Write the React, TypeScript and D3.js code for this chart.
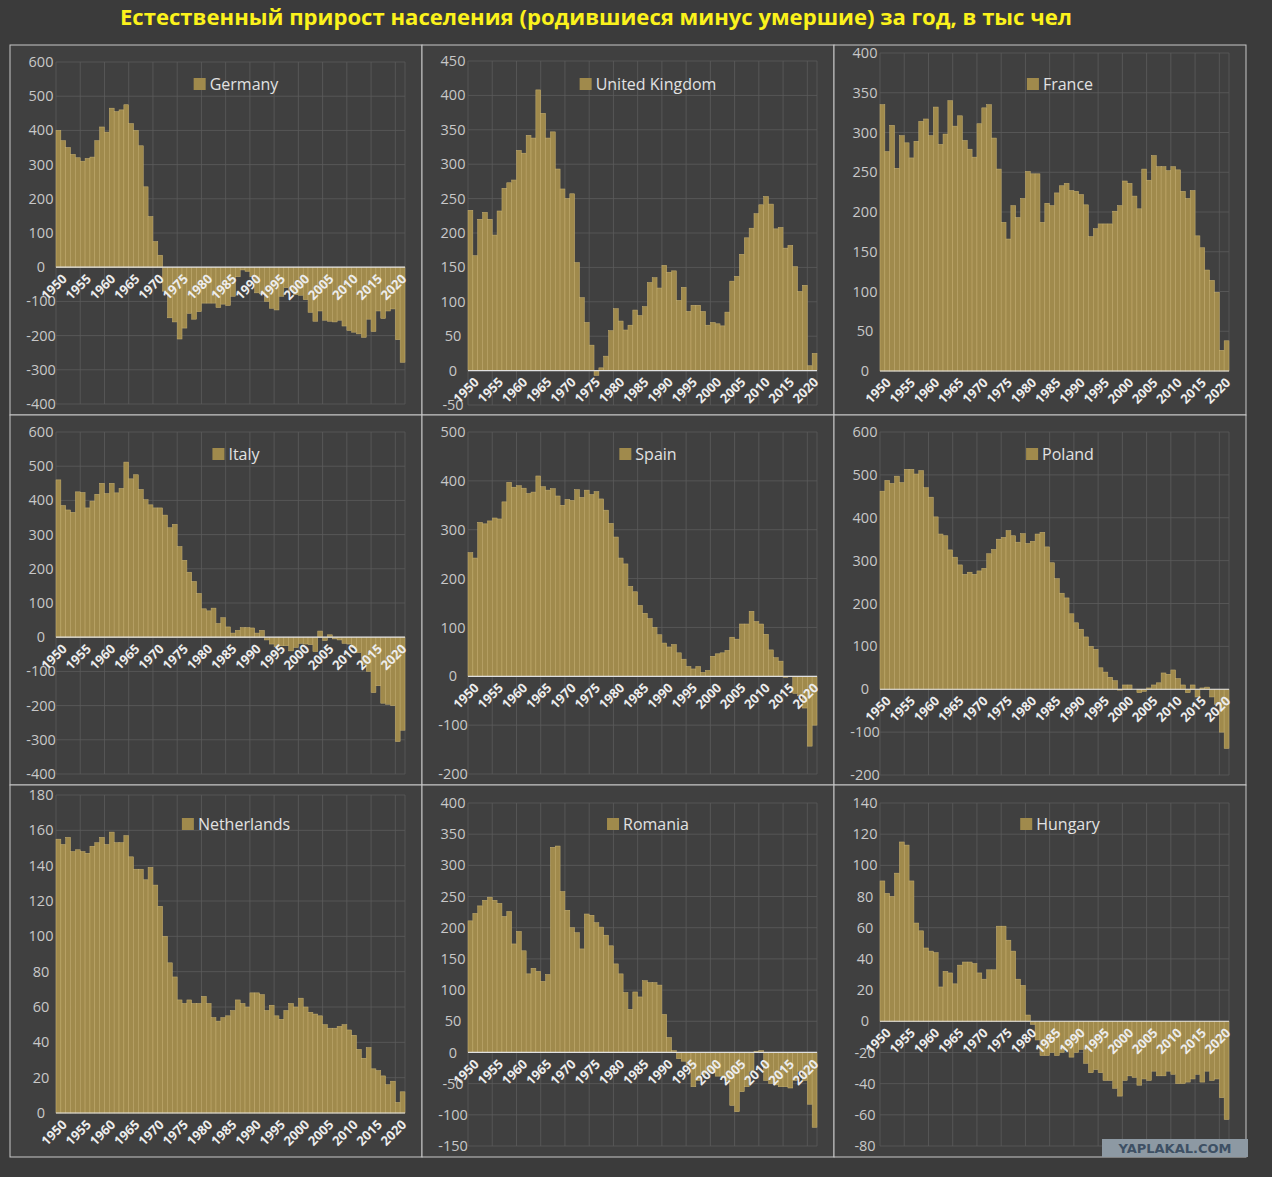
import { useEffect, useRef } from "react";
import * as d3 from "d3";

const TITLE = "Естественный прирост населения (родившиеся минус умершие) за год, в тыс чел";

const years = d3.range(1950, 2022);

const germany = [
  400, 370, 350, 330, 320, 310, 318, 322, 370, 410,
  395, 465, 455, 460, 475, 420, 400, 355, 235, 148,
  75, 35, -70, -148, -160, -210, -178, -135, -152, -130,
  -105, -105, -105, -118, -108, -112, -85, -28, -8, -12,
  -28, -75, -78, -100, -120, -125, -85, -60, -68, -80,
  -82, -95, -132, -158, -128, -155, -158, -160, -155, -172,
  -185, -190, -195, -205, -152, -188, -128, -150, -128, -122,
  -212, -278,
];
const uk = [
  233, 167, 220, 230, 220, 197, 232, 265, 273, 277,
  320, 316, 342, 338, 408, 374, 338, 347, 293, 264,
  250, 257, 157, 106, 70, 37, -7, 4, 21, 58,
  90, 72, 59, 66, 88, 80, 93, 128, 135, 120,
  153, 143, 145, 102, 121, 86, 95, 95, 86, 66,
  70, 68, 65, 85, 130, 137, 169, 193, 207, 228,
  241, 253, 242, 206, 208, 178, 182, 151, 115, 124,
  7, 25,
];
const france = [
  335, 276, 309, 255, 296, 287, 268, 289, 314, 317,
  296, 332, 285, 298, 340, 308, 321, 290, 279, 269,
  311, 331, 335, 293, 254, 187, 166, 208, 193, 217,
  251, 248, 248, 187, 211, 208, 224, 233, 236, 227,
  226, 222, 209, 169, 179, 185, 185, 185, 201, 208,
  239, 236, 220, 204, 254, 240, 271, 257, 257, 252,
  257, 253, 226, 217, 227, 170, 155, 127, 114, 99,
  26, 38,
];
const italy = [
  460, 385, 372, 365, 425, 423, 378, 398, 418, 450,
  420, 450, 422, 435, 512, 463, 475, 432, 402, 387,
  378, 378, 357, 320, 330, 265, 225, 190, 163, 128,
  83, 77, 85, 40, 57, 30, 12, 20, 28, 28,
  27, 12, 20, -8, -20, -28, -25, -25, -40, -30,
  -18, -20, -22, -42, 18, -10, 7, -5, -8, -18,
  -20, -30, -45, -80, -100, -162, -142, -193, -196, -200,
  -305, -272,
];
const spain = [
  253, 242, 315, 312, 318, 324, 322, 357, 397, 387,
  390, 385, 374, 377, 410, 388, 381, 384, 369, 350,
  362, 360, 382, 366, 381, 372, 378, 363, 340, 313,
  285, 242, 230, 184, 173, 145, 129, 118, 100, 85,
  68, 60, 65, 48, 35, 20, 15, 20, 8, 12,
  41, 46, 48, 53, 80, 76, 107, 107, 133, 112,
  107, 86, 54, 38, 31, -2, -1, -35, -40, -65,
  -143, -100,
];
const poland = [
  462, 487, 480, 497, 482, 513, 513, 502, 510, 470,
  448, 402, 362, 358, 325, 308, 290, 268, 273, 268,
  276, 282, 316, 326, 350, 354, 370, 358, 343, 363,
  340, 345, 362, 366, 332, 295, 258, 224, 213, 176,
  155, 140, 122, 100, 93, 50, 40, 28, 20, -2,
  10, 10, 0, -8, -5, 3, 10, 15, 38, 35,
  45, 25, 10, -8, 10, -18, 3, 5, -18, -35,
  -100, -138,
];
const netherlands = [
  155, 152, 156, 148, 149, 148, 147, 151, 153, 156,
  152, 159, 153, 153, 157, 145, 138, 138, 132, 139,
  129, 117, 100, 85, 77, 64, 62, 64, 62, 62,
  66, 62, 54, 52, 54, 55, 58, 64, 62, 60,
  68, 68, 67, 58, 61, 55, 53, 58, 62, 60,
  65, 60, 57, 56, 55, 50, 48, 48, 49, 50,
  47, 44, 36, 31, 37, 25, 24, 21, 16, 18,
  6, 12,
];
const romania = [
  211, 223, 235, 244, 249, 244, 239, 218, 226, 174,
  194, 163, 126, 135, 130, 114, 125, 329, 331, 258,
  228, 200, 192, 166, 222, 220, 208, 201, 188, 171,
  142, 126, 96, 69, 97, 89, 115, 112, 112, 108,
  61, 24, 3, -10, -14, -20, -55, -45, -35, -30,
  -30, -38, -38, -45, -85, -95, -63, -55, -30, 2,
  3, -45, -50, -52, -55, -55, -57, -45, -30, -45,
  -83, -120,
];
const hungary = [
  90, 82, 80, 95, 115, 113, 90, 63, 58, 47,
  45, 44, 22, 32, 31, 24, 36, 38, 38, 37,
  31, 27, 33, 33, 61, 61, 52, 45, 27, 23,
  4, -2, -12, -22, -22, -20, -22, -20, -18, -23,
  -20, -18, -27, -33, -31, -33, -38, -38, -43, -48,
  -38, -35, -36, -41, -37, -38, -32, -35, -35, -32,
  -34, -40, -40, -39, -37, -34, -39, -32, -38, -37,
  -49, -63,
];

const panels = [
  { name: "Germany", values: germany, domain: [-400, 600], step: 100, top: 17, bottom: 359 },
  { name: "United Kingdom", values: uk, domain: [-50, 450], step: 50, top: 16, bottom: 360 },
  { name: "France", values: france, domain: [0, 400], step: 50, top: 8, bottom: 326 },
  { name: "Italy", values: italy, domain: [-400, 600], step: 100, top: 17, bottom: 359 },
  { name: "Spain", values: spain, domain: [-200, 500], step: 100, top: 17, bottom: 359 },
  { name: "Poland", values: poland, domain: [-200, 600], step: 100, top: 17, bottom: 360 },
  { name: "Netherlands", values: netherlands, domain: [0, 180], step: 20, top: 10, bottom: 328 },
  { name: "Romania", values: romania, domain: [-150, 400], step: 50, top: 18, bottom: 361 },
  { name: "Hungary", values: hungary, domain: [-80, 140], step: 20, top: 18, bottom: 361 },
];

const W = 1272;
const H = 1177;
const PW = 412;
const PH = 370;
const FONT = "'Open Sans', 'Noto Sans', sans-serif";
const BAR = "#a08a4c";

export default function App() {
  const svgRef = useRef<SVGSVGElement>(null);

  useEffect(() => {
    document.body.style.margin = "0";
    const svg = d3.select(svgRef.current);
    svg.selectAll("*").remove();

    svg.append("rect").attr("width", W).attr("height", H).attr("fill", "#3b3b3b");

    svg
      .append("text")
      .attr("x", 596)
      .attr("y", 25)
      .attr("text-anchor", "middle")
      .attr("font-family", FONT)
      .attr("font-weight", "bold")
      .attr("font-size", 22)
      .attr("fill", "#fbf21c")
      .attr("textLength", 952)
      .attr("lengthAdjust", "spacingAndGlyphs")
      .text(TITLE);

    panels.forEach((p, k) => {
      const px = 10 + (k % 3) * PW;
      const py = 45 + Math.floor(k / 3) * PH;
      const g = svg.append("g").attr("transform", `translate(${px},${py})`);

      g.append("rect")
        .attr("width", PW)
        .attr("height", PH + (k >= 6 ? 2 : 0))
        .attr("fill", "#404040")
        .attr("stroke", "#c8c8c8")
        .attr("stroke-width", 1);

      const x = d3.scaleBand<number>().domain(years).range([46, 395]).padding(0);
      const y = d3.scaleLinear().domain(p.domain).range([p.bottom, p.top]);
      const ticks = d3.range(p.domain[0], p.domain[1] + 0.001, p.step);

      // grid
      g.selectAll(".hg")
        .data(ticks)
        .enter()
        .append("line")
        .attr("x1", 46)
        .attr("x2", 395)
        .attr("y1", (d) => y(d))
        .attr("y2", (d) => y(d))
        .attr("stroke", "#5c5c5c")
        .attr("stroke-width", 0.8);

      const vYears = years.filter((yr) => yr % 5 === 0);
      g.selectAll(".vg")
        .data(vYears)
        .enter()
        .append("line")
        .attr("x1", (d) => x(d)!)
        .attr("x2", (d) => x(d)!)
        .attr("y1", p.top)
        .attr("y2", p.bottom)
        .attr("stroke", "#5c5c5c")
        .attr("stroke-width", 0.8);
      g.append("line")
        .attr("x1", 395)
        .attr("x2", 395)
        .attr("y1", p.top)
        .attr("y2", p.bottom)
        .attr("stroke", "#5c5c5c")
        .attr("stroke-width", 0.8);

      // y labels
      g.selectAll(".yl")
        .data(ticks)
        .enter()
        .append("text")
        .attr("x", 31)
        .attr("y", (d) => y(d))
        .attr("dy", "0.35em")
        .attr("text-anchor", "middle")
        .attr("font-family", FONT)
        .attr("font-size", 14.5)
        .attr("fill", "#c8c8c8")
        .text((d) => String(d));

      // bars
      g.selectAll(".bar")
        .data(p.values)
        .enter()
        .append("rect")
        .attr("x", (d, i) => x(years[i])!)
        .attr("width", x.bandwidth())
        .attr("y", (d) => y(Math.max(0, d)))
        .attr("height", (d) => Math.abs(y(d) - y(0)))
        .attr("fill", BAR)
        .attr("stroke", "#c9b272")
        .attr("stroke-width", 0.5);

      // zero line
      g.append("line")
        .attr("x1", 46)
        .attr("x2", 395)
        .attr("y1", y(0))
        .attr("y2", y(0))
        .attr("stroke", "#e0e0e0")
        .attr("stroke-width", 1.2);

      // x labels
      g.selectAll(".xl")
        .data(vYears)
        .enter()
        .append("text")
        .attr("transform", (d) => `translate(${x(d)! + x.bandwidth() / 2 + 3},${y(0) + 6}) rotate(-45)`)
        .attr("text-anchor", "end")
        .attr("dy", "0.7em")
        .attr("font-family", FONT)
        .attr("font-weight", "bold")
        .attr("font-size", 13)
        .attr("fill", "#ececec")
        .text((d) => String(d));

      // legend
      const lg = g.append("g");
      const lt = lg
        .append("text")
        .attr("x", 16)
        .attr("y", 39)
        .attr("dy", "0.35em")
        .attr("font-family", FONT)
        .attr("font-size", 16)
        .attr("fill", "#e2e2e2")
        .text(p.name);
      lg.append("rect").attr("x", 0).attr("y", 33).attr("width", 12).attr("height", 12).attr("fill", BAR);
      const tw = (lt.node() as SVGTextElement).getComputedTextLength();
      lg.attr("transform", `translate(${226 - (16 + tw) / 2},0)`);
    });

    // watermark
    const wm = svg.append("g").attr("transform", "translate(1102,1139)");
    wm.append("rect").attr("width", 146).attr("height", 18).attr("fill", "#8d99a3");
    wm.append("text")
      .attr("x", 73)
      .attr("y", 14)
      .attr("text-anchor", "middle")
      .attr("font-family", "'DejaVu Sans', sans-serif")
      .attr("font-weight", "bold")
      .attr("font-size", 13)
      .attr("fill", "#3e5064")
      .text("YAPLAKAL.COM");
  }, []);

  return <svg ref={svgRef} width={W} height={H} style={{ display: "block" }} />;
}
